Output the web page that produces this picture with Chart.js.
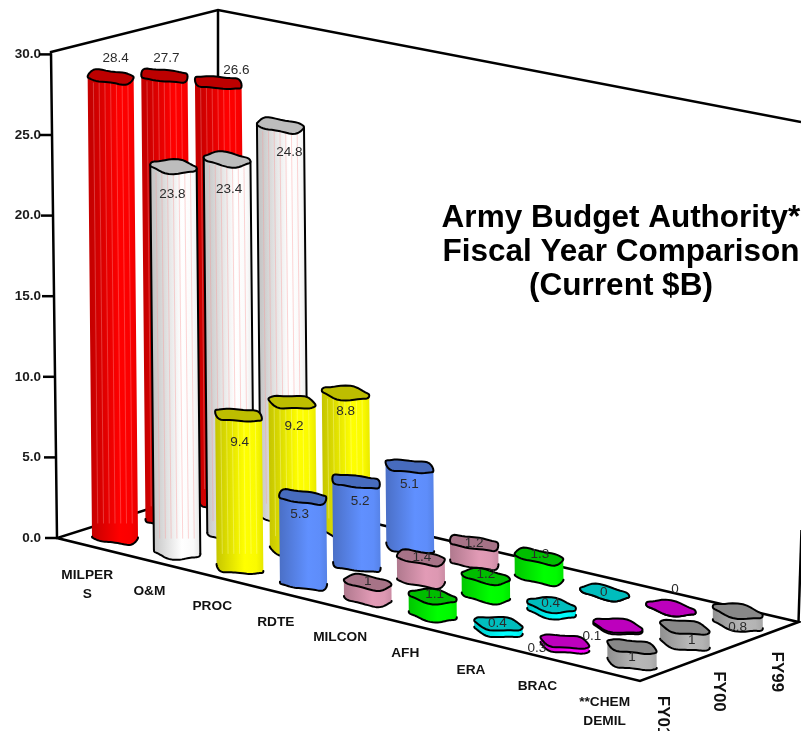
<!DOCTYPE html>
<html>
<head>
<meta charset="utf-8">
<title>Army Budget Authority</title>
<script src="https://cdn.jsdelivr.net/npm/chart.js@4/dist/chart.umd.js"></script>
<style>
  html, body { margin: 0; padding: 0; background: #fff; }
  canvas { display: block; }
</style>
</head>
<body>
<canvas id="budgetChart" width="801" height="731"></canvas>
<script>
// Datos
const categories = [['MILPER', 'S'], ['O&M'], ['PROC'], ['RDTE'], ['MILCON'], ['AFH'], ['ERA'], ['BRAC'], ['**CHEM', 'DEMIL']];
const seriesNames = ['FY01', 'FY00', 'FY99'];
const fy01 = [28.4, 23.8, 9.4, 5.3, 1, 1.1, 0.4, 0.3, 1];
const fy00 = [27.7, 23.4, 9.2, 5.2, 1.4, 1.2, 0.4, 0.1, 1];
const fy99 = [26.6, 24.8, 8.8, 5.1, 1.2, 1.3, 0, 0, 0.8];
const yTicks = [0, 5, 10, 15, 20, 25, 30];
const titleLines = ['Army Budget Authority*', 'Fiscal Year Comparison', '(Current $B)'];

// Estilo
const barColors = ['#ff0000', '#ffffff', '#ffff00', '#6090ff', '#e29bb6', '#00ff00', '#00ffff', '#ff00ff', '#b8b8b8'];
const stripeColors = { '#ff0000': 'rgba(255,190,190,0.3)', '#ffffff': 'rgba(250,150,150,0.4)', '#ffff00': 'rgba(255,255,190,0.35)' };

// Desplazamiento de cada etiqueta respecto a la tapa de su barra
const labelNudges = [
    [[5, -19], [-1, 28], [1, 27], [-3, 17], [0, -1], [2, -2], [-1, -1], [-28, 7], [0, 11]],
    [[2, -17], [2, 30], [2, 24], [4, 20], [1, -1], [0, -2], [-1, -2], [-26, 11], [7, 13]],
    [[18, -12], [9, 27], [0, 18], [0, 18], [0, 0], [1, -2], [-1, 0], [4, -19], [0, 16]]
];
const yearNudges = [[-4, 45], [-1, 40], [5, 40]];

// Proyeccion del piso: x en pixeles, y en unidades de valor
const PX_PER_UNIT = 16.12;
const ZERO_PX = 538;
const AXIS_WIDTH = 44;
const SLANT = 0.0095;
const BAR_WIDTH = 46;
const depthScale = [1.005, 0.995, 0.98];

const toValue = px => (ZERO_PX - px) / PX_PER_UNIT;
const corner = (x, px) => ({ x: x, y: toValue(px) });
const floorA = corner(57, 538);
const floorB = corner(640, 681);
const floorC = corner(798.5, 622);
const floorD = corner(218, 487);
const axisTop = corner(51, 52);
const backTop = corner(218, 10);

function categoryPos(i) {
    return (31.2 + 61.8 * i + 0.36 * i * i) / 583;
}

function floorPoint(u, v) {
    const mix = (a, b, t) => a + (b - a) * t;
    const frontX = mix(floorA.x, floorB.x, u), frontY = mix(floorA.y, floorB.y, u);
    const backX = mix(floorD.x, floorC.x, u), backY = mix(floorD.y, floorC.y, u);
    return { x: mix(frontX, backX, v), y: mix(frontY, backY, v) };
}

function barPoints(values, s) {
    return values.map((value, i) => {
        const p = floorPoint(categoryPos(i), (s + 0.5) / 3);
        return { x: p.x, y: [p.y, p.y + value * depthScale[s]] };
    });
}

function shade(hex, k) {
    const n = parseInt(hex.slice(1), 16);
    const r = Math.round((n >> 16 & 255) * k), g = Math.round((n >> 8 & 255) * k), b = Math.round((n & 255) * k);
    return `rgb(${r},${g},${b})`;
}

// Barra cilindrica con tapa irregular
class CylinderBar extends Chart.BarElement {
    static id = 'cylinderBar';

    draw(ctx) {
        const body = this.options.backgroundColor;
        // Con valores negativos Chart.js intercambia base y punta
        const top = Math.min(this.y, this.base);
        const bottom = Math.max(this.y, this.base);
        const height = bottom - top;
        const topX = this.x - height * SLANT;
        const spread = (this.x - 115) / 626;
        const half = (this.width + spread * 4) / 2;
        const tilt = 0.07 + spread * 0.11;
        const seed = this.x * 0.37;
        const soft = (v, p) => Math.sign(v) * Math.pow(Math.abs(v), p);

        const blob = (cx, cy, t) => {
            const c = soft(Math.cos(t), 0.85);
            return {
                x: cx + c * half,
                y: cy + soft(Math.sin(t), 0.85) * 6.3 + c * half * tilt + Math.sin(3 * t + seed) * 1 + Math.sin(5 * t + seed * 2) * 0.6
            };
        };
        const trace = (cx, cy, from, to, first) => {
            for (let k = 0; k <= 40; k++) {
                const p = blob(cx, cy, from + (to - from) * k / 40);
                if (k === 0 && first) ctx.moveTo(p.x, p.y);
                else ctx.lineTo(p.x, p.y);
            }
        };

        ctx.save();
        ctx.lineJoin = 'round';
        ctx.lineCap = 'round';

        const gradient = ctx.createLinearGradient(this.x - half, 0, this.x + half, 0);
        gradient.addColorStop(0, shade(body, 0.78));
        gradient.addColorStop(0.6, body);
        gradient.addColorStop(0.85, shade(body, 0.98));
        gradient.addColorStop(1, shade(body, 0.9));

        ctx.beginPath();
        trace(topX, top, 0, Math.PI, true);
        trace(this.x, bottom, Math.PI, 0, false);
        ctx.closePath();
        ctx.fillStyle = gradient;
        ctx.fill();

        // Lineas verticales que se ven en las barras altas
        if (stripeColors[body] && height > 100) {
            ctx.strokeStyle = stripeColors[body];
            ctx.lineWidth = 1;
            for (let k = 1; k < 8; k++) {
                const off = -half + k * this.width / 8;
                ctx.beginPath();
                ctx.moveTo(topX + off, top + 6);
                ctx.lineTo(this.x + off, bottom - 14);
                ctx.stroke();
            }
        }

        ctx.strokeStyle = '#000';
        ctx.lineWidth = 2;
        ctx.beginPath();
        trace(this.x, bottom, 0, Math.PI, true);
        ctx.stroke();

        if (body === '#ffffff') {
            ctx.beginPath();
            ctx.moveTo(topX - half, top - half * tilt);
            ctx.lineTo(this.x - half, bottom - half * tilt);
            ctx.moveTo(topX + half, top + half * tilt);
            ctx.lineTo(this.x + half, bottom + half * tilt);
            ctx.stroke();
        }

        ctx.beginPath();
        trace(topX, top, 0, Math.PI * 2, true);
        ctx.closePath();
        ctx.fillStyle = shade(body, 0.74);
        ctx.fill();
        ctx.stroke();
        ctx.restore();
    }
}

class CylinderController extends Chart.BarController {
    static id = 'cylinder';
    static defaults = { dataElementType: 'cylinderBar' };
}

Chart.register(CylinderBar, CylinderController);

// Marcas del eje inclinado, etiquetas y titulo
const textPlugin = {
    id: 'textPlugin',
    beforeDatasetsDraw(chart) {
        const ctx = chart.ctx;
        const y = chart.scales.y;
        ctx.save();
        ctx.strokeStyle = '#000';
        ctx.lineWidth = 2.5;
        yTicks.forEach(tick => {
            const px = y.getPixelForValue(tick);
            const axisX = floorA.x + (axisTop.x - floorA.x) * tick / 30;
            ctx.beginPath();
            ctx.moveTo(axisX - 12, px);
            ctx.lineTo(axisX, px);
            ctx.stroke();
        });
        ctx.restore();
    },
    afterDatasetsDraw(chart) {
        const ctx = chart.ctx;
        const x = chart.scales.x;
        const y = chart.scales.y;
        ctx.save();
        ctx.textAlign = 'center';
        ctx.textBaseline = 'middle';

        // Valores sobre las barras
        ctx.font = '13.5px "Liberation Sans"';
        ctx.fillStyle = '#2b2b2b';
        [fy01, fy00, fy99].forEach((values, s) => {
            const points = barPoints(values, s);
            values.forEach((value, i) => {
                const top = y.getPixelForValue(points[i].y[1]);
                const capX = x.getPixelForValue(points[i].x) - (y.getPixelForValue(points[i].y[0]) - top) * SLANT;
                ctx.fillText(String(value), capX + labelNudges[s][i][0], top + labelNudges[s][i][1]);
            });
        });

        // Categorias bajo el borde frontal
        ctx.font = 'bold 13.7px "Liberation Sans"';
        ctx.fillStyle = '#111';
        categories.forEach((lines, i) => {
            const p = floorPoint(categoryPos(i), 0);
            lines.forEach((line, k) => {
                ctx.fillText(line, x.getPixelForValue(p.x) - 1, y.getPixelForValue(p.y) + 30 + k * 18.5);
            });
        });

        // Anos, en vertical
        ctx.font = 'bold 17px "Liberation Sans"';
        seriesNames.forEach((name, s) => {
            const p = floorPoint(1, (s + 0.5) / 3);
            ctx.save();
            ctx.translate(x.getPixelForValue(p.x) + yearNudges[s][0], y.getPixelForValue(p.y) + yearNudges[s][1]);
            ctx.rotate(Math.PI / 2);
            ctx.fillText(name, 0, 0);
            ctx.restore();
        });

        // Titulo
        ctx.font = 'bold 31.5px "Liberation Sans"';
        ctx.fillStyle = '#000';
        titleLines.forEach((line, k) => {
            ctx.fillText(line, x.getPixelForValue(621), y.getPixelForValue(toValue(218)) + k * 34);
        });
        ctx.restore();
    }
};

const frameLine = points => ({
    type: 'line',
    data: points,
    borderColor: '#000',
    borderWidth: 2.5,
    pointRadius: 0,
    tension: 0,
    clip: false,
    order: 10
});

const barDataset = (name, values, s) => ({
    type: 'cylinder',
    label: name,
    data: barPoints(values, s),
    backgroundColor: barColors,
    barThickness: BAR_WIDTH,
    grouped: false,
    order: s + 1
});

new Chart(document.getElementById('budgetChart').getContext('2d'), {
    type: 'bar',
    data: {
        datasets: [
            barDataset(seriesNames[0], fy01, 0),
            barDataset(seriesNames[1], fy00, 1),
            barDataset(seriesNames[2], fy99, 2),
            frameLine([floorA, axisTop, backTop, corner(801, 122)]),
            frameLine([backTop, floorD, floorA, floorB, floorC, floorD]),
            frameLine([floorC, corner(801.5, 530)])
        ]
    },
    options: {
        responsive: false,
        animation: false,
        layout: { padding: 0 },
        plugins: {
            legend: { display: false },
            tooltip: { enabled: false }
        },
        scales: {
            x: {
                type: 'linear',
                display: false,
                offset: false,
                min: AXIS_WIDTH,
                max: 801
            },
            y: {
                type: 'linear',
                min: toValue(731),
                max: toValue(0),
                grid: { display: false, drawTicks: false },
                border: { display: false },
                ticks: {
                    padding: 3,
                    color: '#1a1a1a',
                    font: { family: '"Liberation Sans"', size: 13.5, weight: 'bold' },
                    callback: value => value.toFixed(1)
                },
                afterBuildTicks: scale => { scale.ticks = yTicks.map(value => ({ value: value })); },
                afterFit: scale => {
                    scale.width = AXIS_WIDTH;
                    scale.paddingTop = 0;
                    scale.paddingBottom = 0;
                }
            }
        }
    },
    plugins: [textPlugin]
});
</script>
</body>
</html>
